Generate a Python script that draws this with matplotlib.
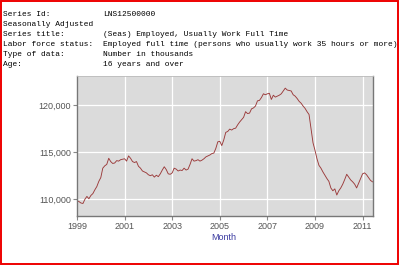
import matplotlib
matplotlib.use('Agg')
import matplotlib.pyplot as plt
from matplotlib.patches import Rectangle
from matplotlib.ticker import FuncFormatter
import numpy as np

# header block
g_labels = ['Series Id:', 'Seasonally Adjusted', 'Series title:', 'Labor force status:',
            'Type of data:', 'Age:']
g_values = ['LNS12500000', '', '(Seas) Employed, Usually Work Full Time',
            'Employed full time (persons who usually work 35 hours or more)',
            'Number in thousands', '16 years and over']

# monthly values, thousands, Jan 1999 .. Jun 2011
g_start_year = 1999
g_values_by_year = {
    1999: [109850, 109750, 109600, 109550, 110000, 110300, 110050, 110400, 110600, 111000, 111350, 111900],
    2000: [112300, 113300, 113550, 113700, 114350, 114000, 113800, 113850, 114100, 114050, 114200, 114250],
    2001: [114300, 114050, 114600, 114350, 114000, 113900, 114000, 113500, 113300, 113000, 112900, 112800],
    2002: [112600, 112500, 112600, 112350, 112550, 112400, 112700, 113100, 113450, 113150, 112700, 112650],
    2003: [112800, 113300, 113200, 113000, 113100, 113050, 113300, 113100, 113200, 113700, 114300, 114050],
    2004: [114100, 114200, 114050, 114150, 114300, 114500, 114600, 114700, 114850, 114900, 115400, 116100],
    2005: [116150, 115700, 116300, 117100, 117200, 117450, 117350, 117500, 117550, 117900, 118200, 118450],
    2006: [118700, 119300, 119100, 119150, 119600, 119700, 119900, 120450, 120500, 120800, 121200, 121100],
    2007: [121200, 121250, 120600, 121050, 120850, 120950, 121050, 121200, 121500, 121800, 121600, 121550],
    2008: [121500, 121100, 120950, 120700, 120400, 120200, 119900, 119650, 119300, 119000, 117500, 116000],
    2009: [115200, 114300, 113600, 113300, 112900, 112550, 112200, 111900, 111200, 110900, 111100, 110450],
    2010: [110900, 111200, 111600, 112100, 112650, 112350, 112050, 111850, 111600, 111200, 111700, 112200],
    2011: [112700, 112800, 112600, 112300, 112000, 111850],
}
g_xticks = [1999, 2001, 2003, 2005, 2007, 2009, 2011]
g_yticks = [110000, 115000, 120000]

l_y = [v for i_year in sorted(g_values_by_year) for v in g_values_by_year[i_year]]
l_x = g_start_year + np.arange(len(l_y)) / 12.0

fig = plt.figure(figsize=(4, 2.65), dpi=100)

for i, (i_label, i_value) in enumerate(zip(g_labels, g_values)):
    l_ypos = 1 - (14 + 10 * i) / 265
    fig.text(3 / 400, l_ypos, i_label, family='Liberation Mono', fontsize=5.65,
             color='black', va='center', ha='left')
    if i_value:
        fig.text(103 / 400, l_ypos, i_value, family='Liberation Mono', fontsize=5.65,
                 color='black', va='center', ha='left')

ax = fig.add_axes([77 / 400, 1 - 216 / 265, 295.5 / 400, 140 / 265])
ax.set_facecolor('#dbdbdb')
ax.plot(l_x, l_y, color='#9b3a3a', linewidth=0.65)
ax.set_xlim(1999, l_x[-1])
ax.set_ylim(108220, 123090)
ax.set_xticks(g_xticks)
ax.set_yticks(g_yticks)
ax.yaxis.set_major_formatter(FuncFormatter(lambda v, p: f'{int(v):,}'))
ax.grid(True, color='white', linewidth=0.9)
ax.set_axisbelow(True)
ax.tick_params(direction='out', length=3, width=0.8, color='#888888',
               labelcolor='#555555', labelsize=6.5, pad=1.5)
for i_tick in ax.get_xticklabels() + ax.get_yticklabels():
    i_tick.set_family('Liberation Sans')
for i_side in ('left', 'bottom', 'right'):
    ax.spines[i_side].set_color('#777777')
    ax.spines[i_side].set_linewidth(1.0)
ax.spines['top'].set_color('#bbbbbb')
ax.spines['top'].set_linewidth(0.6)

fig.text(224 / 400, 1 - 238 / 265, 'Month', family='Liberation Sans', fontsize=6.5,
         color='#3a3aa0', ha='center', va='center')

fig.patches.append(Rectangle((0.002, 0.003), 0.994, 0.994, transform=fig.transFigure,
                             fill=False, edgecolor='#ee0000', linewidth=1.4))

fig.savefig('out.png', dpi=100)
